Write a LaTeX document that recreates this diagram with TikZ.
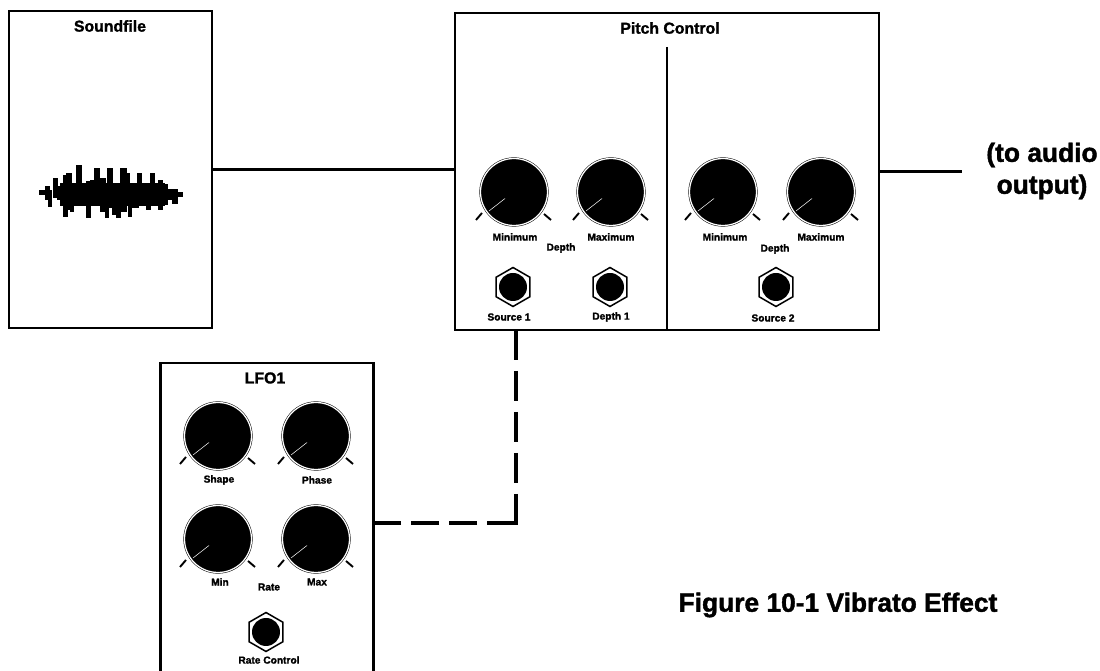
\documentclass[tikz,border=0pt]{standalone}
\usepackage{fontspec}
\setmainfont{Liberation Sans}[BoldFeatures={FakeBold=1.5}]
\usetikzlibrary{positioning,shapes.geometric,calc}

\begin{document}
\begin{tikzpicture}[
  x=0.02cm,y=-0.02cm,
  panel/.style={rectangle,draw,line width=0.55mm,fill=white,inner sep=0pt},
  knobnode/.style={circle,draw,double=white,double distance=0.25mm,line width=0.1mm,fill=black,minimum size=1.34cm,inner sep=0pt},
  jacknode/.style={regular polygon,regular polygon sides=6,shape border rotate=30,draw,line width=0.3mm,minimum size=0.78cm,inner sep=0pt},
  jackcore/.style={circle,fill=black,minimum size=0.56cm,inner sep=0pt},
  title/.style={font=\fontsize{9}{10}\selectfont\bfseries},
  small/.style={font=\fontsize{5.8}{7}\selectfont\bfseries},
  big/.style={font=\fontsize{15}{18.2}\selectfont\bfseries,align=center},
  wire/.style={line width=0.55mm},
  tick/.style={line width=0.38mm},
]
\useasboundingbox (0,0) rectangle (1100,671);

% ==== PANELS ====
\node[panel,minimum width=4.06cm,minimum height=6.34cm] (soundfile) at (110.5,169.5) {};
\node[panel,minimum width=8.48cm,minimum height=6.34cm] (pitch) at (667,171.5) {};
\node[panel,minimum width=4.26cm,minimum height=6.4cm] (lfo) at (267,523) {};

\node[title] (soundfiletitle) at (110,26) {Soundfile};
\node[title] (pitchtitle) at (670,28) {Pitch Control};
\node[title] (lfotitle) at (265,378) {LFO1};

% divider in the pitch panel
\coordinate (divtop) at (667,47);
\draw[line width=0.3mm] (divtop) -- (divtop|-pitch.south);

% ==== WAVEFORM ====
\fill (60,183) rectangle (165,206);
\foreach \wx/\wtop/\wbot/\wwd in {42/190/195/7,47/186/200/5,50/190/207/4,55/178/198/5,60/186/200/7,65/175/217/5,
  69/173/210/6,72/183/212/4,79/165/205/6,83/184/205/5,88/181/218/5,93/180/205/6,97/168/205/6,103/178/212/6,
  107/183/218/4,110/168/208/6,114/184/215/5,118/183/218/5,123/168/212/7,127/173/205/6,130/183/217/4,135/186/208/7,
  139/173/205/5,144/184/205/6,148/186/210/5,152/173/205/5,157/186/205/6,160/180/210/5,165/184/205/6,170/189/200/7,
  175/189/204/6,180/192/197/6}
  \fill (\wx-\wwd/2,\wtop) rectangle (\wx+\wwd/2,\wbot);

% ==== KNOBS ====
\foreach \kname/\kx/\ky in {kmina/514/192,kmaxa/611/192,kminb/723/192,kmaxb/821/192,
  kshape/218/436,kphase/316/436,kmin/218/539,kmax/316/539} {
  \node[knobnode] (\kname) at (\kx,\ky) {};
  \draw[white,line width=0.1mm] (\kname.center) ++(-9,6.5) -- ++(-16,12.5);
  \draw[tick] (\kname.center) ++(-32,21) -- ++(-6,7);
  \draw[tick] (\kname.center) ++(30,22) -- ++(7,6);
}

% ==== JACKS ====
\foreach \jname/\jx/\jy in {jsrca/513/287,jdep/610/287,jsrcb/776/287,jrate/266/632} {
  \node[jacknode] (\jname) at (\jx,\jy) {};
  \node[jackcore] at (\jname.center) {};
}

% ==== LABELS ====
\node[small] (lmina) at (515,237) {Minimum};
\node[small] (lmaxa) at (611,237) {Maximum};
\node[small] (ldepa) at (561,248) {Depth};
\node[small] (lsrca) at (509,317) {Source 1};
\node[small] (ldep) at (611,317) {Depth 1};
\node[small] (lminb) at (725,237) {Minimum};
\node[small] (lmaxb) at (821,237) {Maximum};
\node[small] (ldepb) at (775,249) {Depth};
\node[small] (lsrcb) at (773,318) {Source 2};
\node[small] (lshape) at (219,480) {Shape};
\node[small] (lphase) at (317,480) {Phase};
\node[small] (lminc) at (220,582) {Min};
\node[small] (lrate) at (269,587) {Rate};
\node[small] (lmaxc) at (317,582) {Max};
\node[small] (lctrl) at (269,660) {Rate Control};

\node[big] (audio) at (1042,171) {(to audio\\output)};
\node[big] (figcap) at (838,605) {Figure 10-1 Vibrato Effect};

% ==== CONNECTORS ====
\coordinate (audioend) at (962,171.5);
\coordinate (sourcestem) at (516,330);
\draw[wire] (soundfile.east) -- (soundfile.east-|pitch.west);
\draw[wire] (pitch.east) -- (audioend);
\draw[wire,line width=0.7mm,dash pattern=on 0.6cm off 0.22cm on 0.6cm off 0.22cm on 0.6cm off 0.22cm on 0.6cm off 0.22cm on 1.16cm off 0.2cm on 0.56cm off 0.2cm on 0.56cm off 0.2cm]
  (sourcestem) |- (lfo.east);

\end{tikzpicture}
\end{document}
